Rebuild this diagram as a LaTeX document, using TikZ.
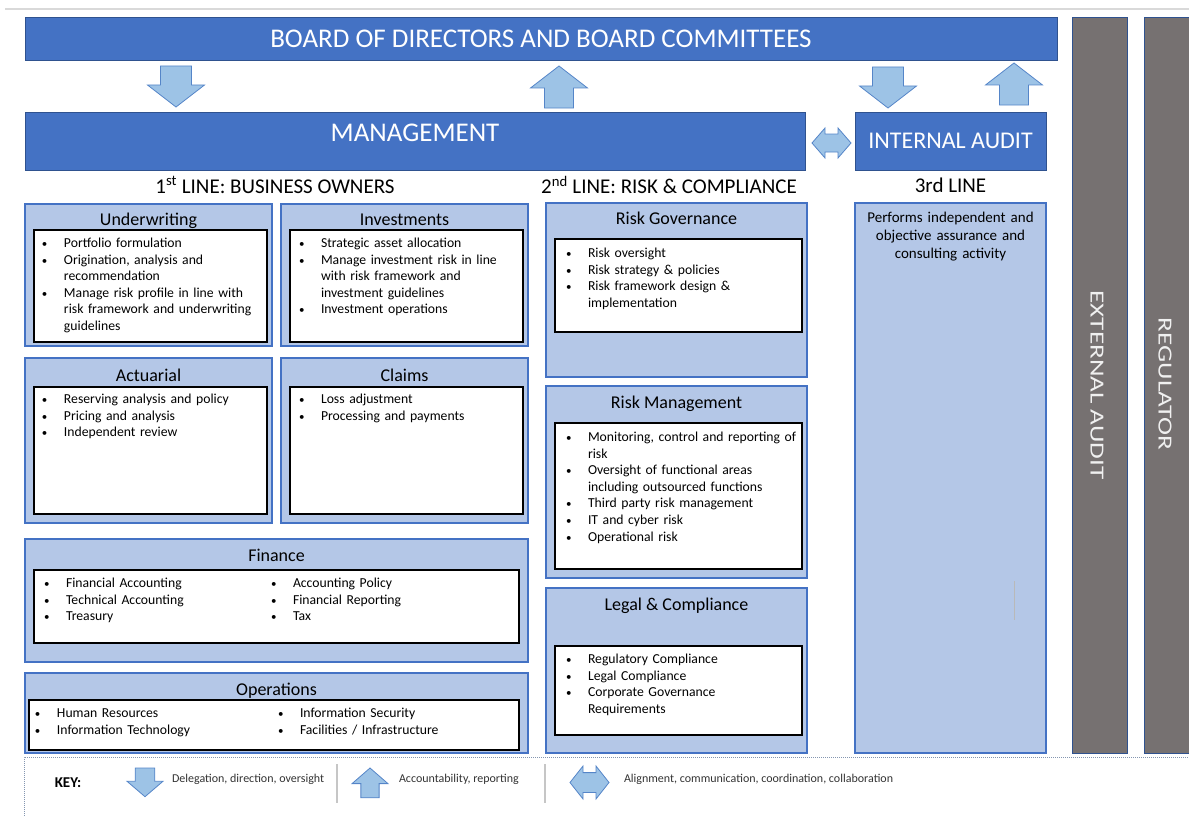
\documentclass[tikz,border=0pt]{standalone}
\usepackage{fontspec}
\setmainfont{Carlito}
\usepackage{graphicx}
\usepackage{tikz}
\definecolor{dkblue}{HTML}{4472C4}
\definecolor{dkline}{HTML}{2F528F}
\definecolor{ltblue}{HTML}{B4C7E7}
\definecolor{arrfill}{HTML}{9DC3E6}
\definecolor{arrline}{HTML}{5585C8}
\definecolor{colgray}{HTML}{767171}
\definecolor{keyline}{HTML}{8496B0}
\tikzset{
  sz/.style 2 args={minimum width=#1pt,minimum height=#2pt},
}
\tikzstyle{every node}=[inner sep=0pt,outer sep=0pt]
\tikzstyle{dkbox}=[draw=dkline,fill=dkblue,text=white,line width=.8pt,anchor=north west]
\tikzstyle{ltbox}=[draw=dkblue,fill=ltblue,line width=1.2pt,anchor=north west]
\tikzstyle{inbox}=[draw=black,fill=white,line width=1.3pt,anchor=north west]
\tikzstyle{colbox}=[draw=dkline,fill=colgray,line width=.8pt,anchor=north west]
\tikzstyle{coltxt}=[text=white!88!gray,rotate=-90,font=\fontsize{20}{24}\selectfont]
\tikzstyle{blk}=[draw=arrline,fill=arrfill,line width=.8pt]
\tikzstyle{ttl}=[anchor=base,font=\fontsize{18}{22}\selectfont]
\tikzstyle{lineh}=[font=\fontsize{21}{25}\selectfont]
\tikzstyle{items}=[anchor=base west,text width=240pt,align=left,font=\fontsize{13.7}{16.6}\selectfont]
\tikzstyle{keytxt}=[anchor=west,text=black!80,font=\fontsize{12}{14}\selectfont]
\tikzstyle{keysep}=[gray!45,line width=1.2pt]
\newcommand{\itm}[1]{\hangindent=23pt\hangafter=1\noindent\makebox[23pt][l]{\hspace{1pt}\scalebox{.8}{\textbullet}}#1\par}
\newcommand{\arrdn}[2][]{\filldraw[blk,shift={(#2)},#1] (-15.5,0)--(15.5,0)--(15.5,19)--(28.5,19)--(0,41)--(-28.5,19)--(-15.5,19)--cycle;}
\newcommand{\arrup}[2][]{\filldraw[blk,shift={(#2)},#1] (0,0)--(28.5,22)--(14.5,22)--(14.5,42)--(-14.5,42)--(-14.5,22)--(-28.5,22)--cycle;}
\newcommand{\arrlr}[2][]{\filldraw[blk,shift={(#2)},#1] (-19.5,0)--(-6.5,-15)--(-6.5,-9)--(6.5,-9)--(6.5,-15)--(19.5,0)--(6.5,15)--(6.5,9)--(-6.5,9)--(-6.5,15)--cycle;}

\begin{document}
\begin{tikzpicture}[x=1pt,y=-1pt]
  \useasboundingbox (0,0) rectangle (1189,816);
  \draw[gray!30,line width=2pt] (5,9.5)--(1189,9.5);

  \node[dkbox,sz={1032}{43},font=\fontsize{27}{32}\selectfont] (board) at (25,17) {BOARD OF DIRECTORS AND BOARD COMMITTEES};
  \node[dkbox,sz={780}{58},font=\fontsize{27}{32}\selectfont] (mgmt) at (25,112) {\raisebox{8pt}[\height][0pt]{MANAGEMENT}};
  \node[dkbox,sz={191}{58},font=\fontsize{24}{28}\selectfont] (ia) at (855,112) {INTERNAL AUDIT};
  \node[colbox,sz={55}{736}] (ext) at (1072,17) {};
  \node[colbox,sz={60}{736}] (reg) at (1144,17) {};
  \node[coltxt] (extt) at (1097,385) {\scalebox{1.36}[1]{EXTERNAL AUDIT}};
  \node[coltxt] (regt) at (1165,384) {\scalebox{1.36}[1]{REGULATOR}};

  \arrdn{176,66}
  \arrup{559,66}
  \arrdn{888,67}
  \arrup{1014,63}
  \arrlr{831.5,143}

  \node[lineh] (l1) at (275,185) {1\textsuperscript{st} LINE: BUSINESS OWNERS};
  \node[lineh] (l2) at (669,185) {2\textsuperscript{nd} LINE: RISK \& COMPLIANCE};
  \node[lineh] (l3) at (950.5,185) {3rd LINE};

  \node[ltbox,sz={247}{142}] (uw) at (25,204) {};
  \node[inbox,sz={233}{112}] (uwb) at (34,230) {};
  \node[ttl] (uwt) at (148.5,225.5) {Underwriting};
  \node[items] (uwi) at (41,247.5) {\itm{Portfolio formulation}\itm{Origination, analysis and\newline recommendation}\itm{Manage risk profile in line with\newline risk framework and underwriting\newline guidelines}};

  \node[ltbox,sz={247}{142}] (inv) at (281,204) {};
  \node[inbox,sz={233}{112}] (invb) at (290,230) {};
  \node[ttl] (invt) at (404.5,225.5) {Investments};
  \node[items] (invi) at (298,247.5) {\itm{Strategic asset allocation}\itm{Manage investment risk in line\newline with risk framework and\newline investment guidelines}\itm{Investment operations}};

  \node[ltbox,sz={247}{165}] (act) at (25,358) {};
  \node[inbox,sz={233}{127}] (actb) at (34,387) {};
  \node[ttl] (actt) at (148.5,381.5) {Actuarial};
  \node[items] (acti) at (41,403.5) {\itm{Reserving analysis and policy}\itm{Pricing and analysis}\itm{Independent review}};

  \node[ltbox,sz={247}{165}] (clm) at (281,358) {};
  \node[inbox,sz={233}{127}] (clmb) at (290,387) {};
  \node[ttl] (clmt) at (404.5,381.5) {Claims};
  \node[items] (clmi) at (298,403.5) {\itm{Loss adjustment}\itm{Processing and payments}};

  \node[ltbox,sz={503}{123}] (fin) at (25,539) {};
  \node[inbox,sz={485}{73}] (finb) at (34,570) {};
  \node[ttl] (fint) at (276.5,561.5) {Finance};
  \node[items] (fini) at (43,587.5) {\itm{Financial Accounting}\itm{Technical Accounting}\itm{Treasury}};
  \node[items] (finj) at (270,587.5) {\itm{Accounting Policy}\itm{Financial Reporting}\itm{Tax}};

  \node[ltbox,sz={503}{80}] (ops) at (25,673) {};
  \node[inbox,sz={490}{50}] (opsb) at (29,700) {};
  \node[ttl] (opst) at (276.5,695.5) {Operations};
  \node[items] (opsi) at (34,717.5) {\itm{Human Resources}\itm{Information Technology}};
  \node[items] (opsj) at (277,717.5) {\itm{Information Security}\itm{Facilities / Infrastructure}};

  \node[ltbox,sz={261}{174}] (rg) at (546,203) {};
  \node[inbox,sz={247}{93}] (rgb) at (555,239) {};
  \node[ttl] (rgt) at (676.5,224.5) {Risk Governance};
  \node[items] (rgi) at (565,257.5) {\itm{Risk oversight}\itm{Risk strategy \& policies}\itm{Risk framework design \&\newline implementation}};

  \node[ltbox,sz={261}{192}] (rm) at (546,386) {};
  \node[inbox,sz={247}{146}] (rmb) at (555,423) {};
  \node[ttl] (rmt) at (676.5,408.5) {Risk Management};
  \node[items] (rmi) at (565,441.5) {\itm{Monitoring, control and reporting of\newline risk}\itm{Oversight of functional areas\newline including outsourced functions}\itm{Third party risk management}\itm{IT and cyber risk}\itm{Operational risk}};

  \node[ltbox,sz={261}{165}] (lc) at (546,588) {};
  \node[inbox,sz={247}{89}] (lcb) at (555,646) {};
  \node[ttl] (lct) at (676.5,610.5) {Legal \& Compliance};
  \node[items] (lci) at (565,663.5) {\itm{Regulatory Compliance}\itm{Legal Compliance}\itm{Corporate Governance\newline Requirements}};

  \node[ltbox,sz={191}{550}] (third) at (855,203) {};
  \node[text width=185pt,align=center,anchor=base,font=\fontsize{15}{18}\selectfont] (thirdt) at (950.5,222) {Performs independent and\\objective assurance and\\consulting activity};
  \draw[gray!55,line width=.8pt] (1014,581)--(1014,620);

  \draw[keyline,densely dotted,line width=1pt] (24,816)--(24,757)--(1189,757);
  \node[font=\bfseries\fontsize{15}{18}\selectfont] (key) at (68,783) {KEY:};
  \arrdn[xscale=.63,yscale=.7]{145,768}
  \node[keytxt] (k1) at (172,779) {Delegation, direction, oversight};
  \draw[keysep] (337,764)--(337,803);
  \arrup[xscale=.63,yscale=.71]{370,768}
  \node[keytxt] (k2) at (399,779) {Accountability, reporting};
  \draw[keysep] (545,764)--(545,803);
  \arrlr[yscale=1.1]{589.5,782.5}
  \node[keytxt] (k3) at (624,779) {Alignment, communication, coordination, collaboration};
\end{tikzpicture}
\end{document}
